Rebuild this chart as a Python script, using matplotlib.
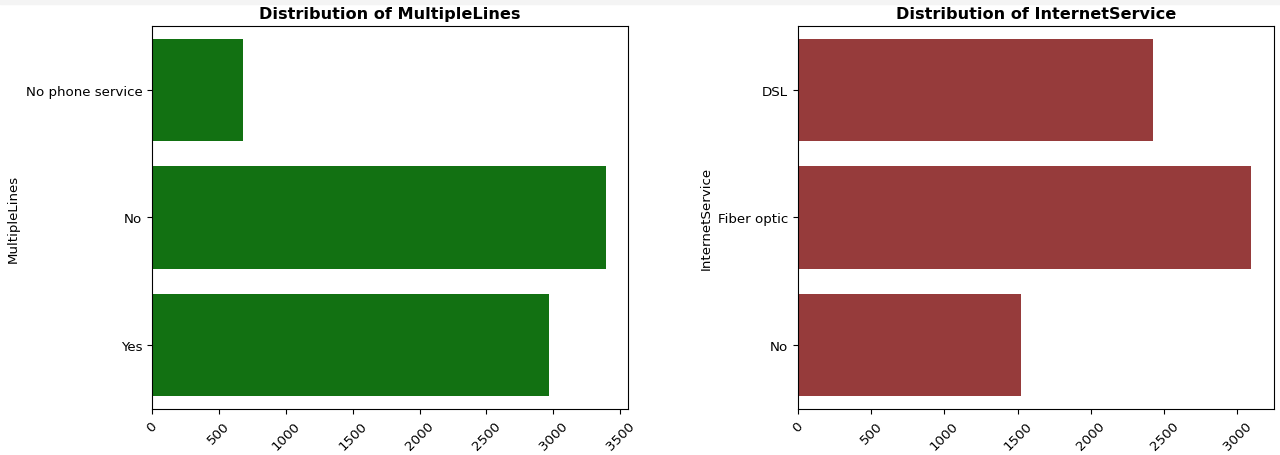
import matplotlib.pyplot as plt
import numpy as np

# MultipleLines
ml_labels = ["No phone service", "No", "Yes"]
ml_counts = [682, 3390, 2971]

# InternetService
is_labels = ["DSL", "Fiber optic", "No"]
is_counts = [2421, 3096, 1526]

plt.rcParams['font.size'] = 9.6

fig = plt.figure(figsize=(12.8, 4.56), dpi=100)
# light gray strip along the top like the screenshot
fig.patches.append(plt.Rectangle((0, 0.989), 1, 0.011, transform=fig.transFigure,
                                 color='#f4f4f4', zorder=-1))

ax1 = fig.add_axes([0.1188, 0.1009, 0.372, 0.840])
ax2 = fig.add_axes([0.6234, 0.1009, 0.372, 0.840])


def plot_counts(ax, labels, counts, color, name):
    y = np.arange(len(labels))
    ax.barh(y, counts, height=0.8, color=color)
    ax.set_yticks(y)
    ax.set_yticklabels(labels)
    ax.set_ylim(len(labels) - 0.5, -0.5)
    ax.set_xlim(0, max(counts) * 1.05)
    ax.set_ylabel(name)
    ax.set_title("Distribution of " + name, fontweight='bold', fontsize=11.6)
    ax.tick_params(axis='x', labelrotation=45)


plot_counts(ax1, ml_labels, ml_counts, '#127112', "MultipleLines")
plot_counts(ax2, is_labels, is_counts, '#963B3B', "InternetService")

fig.savefig("out.png", dpi=100)
